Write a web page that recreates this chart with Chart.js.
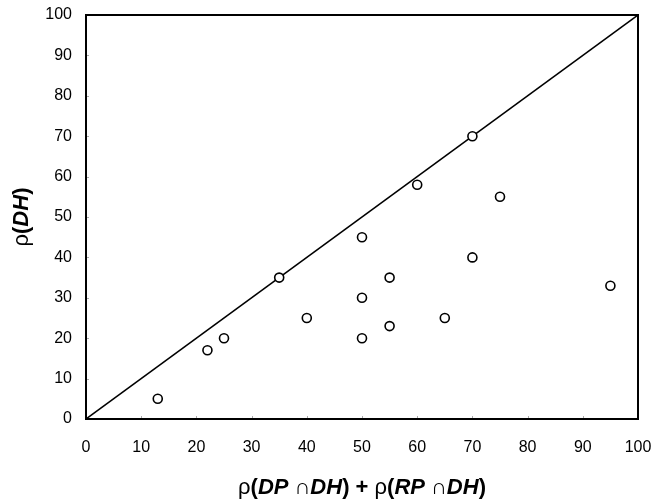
<!DOCTYPE html>
<html>
<head>
<meta charset="utf-8">
<script src="https://cdn.jsdelivr.net/npm/chart.js@4/dist/chart.umd.min.js"></script>
<style>
    body { margin: 0; background: #fff; }
    #wrap { width: 652px; height: 503px; }
</style>
</head>
<body>
<div id="wrap"><canvas id="scatterChart"></canvas></div>
<script>
// points
const xValues = [13, 22, 25, 35, 40, 50, 50, 50, 55, 55, 60, 65, 70, 70, 75, 95];
const yValues = [5, 17, 20, 35, 25, 45, 30, 20, 35, 23, 58, 25, 70, 40, 55, 33];
// the diagonal y = x
const lineX = [0, 100];
const lineY = [0, 100];
const xTicks = [0, 10, 20, 30, 40, 50, 60, 70, 80, 90, 100];
const yTicks = [0, 10, 20, 30, 40, 50, 60, 70, 80, 90, 100];

const xTitle = [['ρ', 'n'], ['(', 'b'], ['DP', 'bi'], [' ∩', 'n'], ['DH', 'bi'], [')', 'b'], [' + ', 'b'],
                ['ρ', 'n'], ['(', 'b'], ['RP', 'bi'], [' ∩', 'n'], ['DH', 'bi'], [')', 'b']];
const yTitle = [['ρ', 'n'], ['(', 'b'], ['DH', 'bi'], [')', 'b']];

const FONT = '"Liberation Sans", Arial, sans-serif';

function fontFor(style) {
    if (style == 'bi') return 'italic bold 22px ' + FONT;
    if (style == 'b') return 'bold 22px ' + FONT;
    return '22px ' + FONT;
}

function drawMixed(ctx, parts, cx, cy) {
    let total = 0;
    parts.forEach(p => { ctx.font = fontFor(p[1]); total += ctx.measureText(p[0]).width; });
    let x = cx - total / 2;
    ctx.textBaseline = 'middle';
    ctx.textAlign = 'left';
    parts.forEach(p => {
        ctx.font = fontFor(p[1]);
        ctx.fillText(p[0], x, cy);
        x += ctx.measureText(p[0]).width;
    });
}

// frame, inward ticks and the axis titles
const framePlugin = {
    id: 'frame',
    afterDraw(chart) {
        const ctx = chart.ctx;
        const a = chart.chartArea;
        ctx.save();
        ctx.strokeStyle = '#aaa';
        ctx.lineWidth = 1;
        xTicks.forEach(v => {
            const px = Math.round(chart.scales.x.getPixelForValue(v)) + 0.5;
            ctx.beginPath(); ctx.moveTo(px, a.bottom); ctx.lineTo(px, a.bottom - 3); ctx.stroke();
        });
        yTicks.forEach(v => {
            const py = Math.round(chart.scales.y.getPixelForValue(v)) + 0.5;
            ctx.beginPath(); ctx.moveTo(a.left, py); ctx.lineTo(a.left + 3, py); ctx.stroke();
        });
        ctx.strokeStyle = '#000';
        ctx.lineWidth = 2;
        ctx.strokeRect(a.left, a.top, a.right - a.left, a.bottom - a.top);

        ctx.fillStyle = '#000';
        drawMixed(ctx, xTitle, (a.left + a.right) / 2, 488);
        ctx.translate(22, (a.top + a.bottom) / 2);
        ctx.rotate(-Math.PI / 2);
        drawMixed(ctx, yTitle, 0, 0);
        ctx.restore();
    }
};

const ctx = document.getElementById('scatterChart').getContext('2d');
new Chart(ctx, {
    type: 'scatter',
    data: {
        datasets: [
            {
                label: 'points',
                data: xValues.map((x, i) => ({ x: x, y: yValues[i] })),
                pointRadius: 4.5,
                pointHoverRadius: 4.5,
                borderWidth: 1.6,
                borderColor: '#000',
                backgroundColor: '#fff',
                order: 0,
            },
            {
                type: 'line',
                label: 'diagonal',
                data: lineX.map((x, i) => ({ x: x, y: lineY[i] })),
                borderColor: '#000',
                borderWidth: 1.5,
                pointRadius: 0,
                fill: false,
                order: 1,
            },
        ],
    },
    options: {
        responsive: true,
        maintainAspectRatio: false,
        animation: false,
        layout: { padding: { left: 0, top: 15, right: 14, bottom: 0 } },
        plugins: { legend: { display: false }, tooltip: { enabled: false } },
        scales: {
            x: {
                type: 'linear',
                min: 0,
                max: 100,
                afterBuildTicks: s => { s.ticks = xTicks.map(v => ({ value: v })); },
                afterFit: s => { s.height = 84; s.paddingLeft = 0; s.paddingRight = 0; },
                grid: { display: false, drawTicks: false },
                border: { display: false },
                ticks: { color: '#000', padding: 19, maxRotation: 0, font: { family: FONT, size: 16 } },
            },
            y: {
                type: 'linear',
                min: 0,
                max: 100,
                afterBuildTicks: s => { s.ticks = yTicks.map(v => ({ value: v })); },
                afterFit: s => { s.width = 86; s.paddingTop = 0; s.paddingBottom = 0; },
                grid: { display: false, drawTicks: false },
                border: { display: false },
                ticks: { color: '#000', padding: 14, font: { family: FONT, size: 16 } },
            },
        },
    },
    plugins: [framePlugin],
});
</script>
</body>
</html>
